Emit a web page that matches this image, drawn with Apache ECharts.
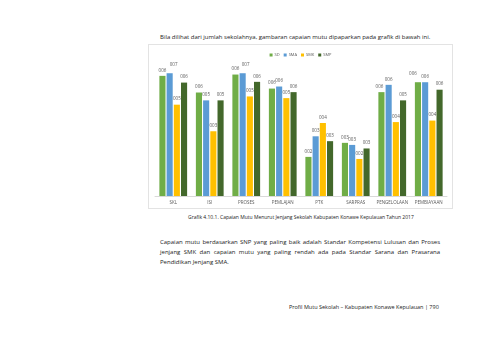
<!DOCTYPE html>
<html><head><meta charset="utf-8">
<script src="https://cdn.jsdelivr.net/npm/echarts@6/dist/echarts.min.js"></script>
<style>
html,body{margin:0;padding:0;background:#fff;width:480px;height:339px;overflow:hidden;font-family:"Open Sans","Liberation Sans",sans-serif;color:#222;}
.t{position:absolute;font-size:6px;white-space:nowrap;line-height:10px;}
#chart{position:absolute;left:148px;top:44px;width:303px;height:163px;border:1px solid #e3e3e3;}
#para{position:absolute;left:160px;top:237px;width:280px;font-size:6px;line-height:10px;text-align:justify;}
</style></head><body>
<div class="t" style="left:160px;top:32px;">Bila dilihat dari jumlah sekolahnya, gambaran capaian mutu dipaparkan pada grafik di bawah ini.</div>
<div id="chart"></div>
<div class="t" style="left:188px;top:212px;font-size:5px;">Grafik 4.10.1. Capaian Mutu Menurut Jenjang Sekolah Kabupaten Konawe Kepulauan Tahun 2017</div>
<div id="para">Capaian mutu berdasarkan SNP yang paling baik adalah Standar Kompetensi Lulusan dan Proses jenjang SMK dan capaian mutu yang paling rendah ada pada Standar Sarana dan Prasarana Pendidikan Jenjang SMA.</div>
<div class="t" style="left:289px;top:302px;font-size:5.5px;">Profil Mutu Sekolah – Kabupaten Konawe Kepulauan | 790</div>
<script>
const categories = ["SKL","ISI","PROSES","PEMLAJAN","PTK","SARPRAS","PENGELOLAAN","PEMBIAYAAN"];
const seriesNames = ["SD","SMA","SMK","SMP"];
const sd  = [6.42,5.53,6.49,5.74,2.09,2.84,5.55,6.08];
const sma = [6.56,5.11,6.56,5.85,3.19,2.73,5.94,6.08];
const smk = [4.88,3.46,5.32,5.23,3.90,1.98,3.95,4.03];
const smp = [6.06,5.11,6.10,5.55,2.93,2.54,5.11,5.68];
const colors = ["#70ad47","#5b9bd5","#ffc000","#43682b"];
const values = [sd,sma,smk,smp];
// labels moved aside (with leader line) in the original
const shifted = {"1-0":[4,-3],"1-2":[3,-3],"0-7":[-5,-3],"0-6":[-2,0]};

const chart = echarts.init(document.getElementById('chart'), null, {renderer:'canvas'});
chart.setOption({
  animation:false,
  color:colors,
  legend:{top:3,left:'center',itemWidth:3,itemHeight:3,itemGap:4,icon:'rect',
    textStyle:{fontSize:4,color:'#595959',fontFamily:'Open Sans',padding:[0,0,0,-3]}, data:seriesNames},
  grid:{left:6,right:5,top:20,bottom:12,containLabel:false},
  xAxis:{type:'category',data:categories,
    axisLine:{lineStyle:{color:'#d9d9d9'}},axisTick:{show:false},
    axisLabel:{fontSize:4.5,color:'#595959',margin:4,fontFamily:'Open Sans',interval:0}},
  yAxis:{type:'value',min:0,max:7,show:false,splitLine:{show:false}},
  series: seriesNames.map((n,i)=>({
    name:n,type:'bar',barGap:'18%',barCategoryGap:'24%',
    data:values[i].map((v,j)=>{
      const s = shifted[i+'-'+j];
      return s ? {value:v,label:{offset:s}} : v;
    }),
    label:{show:true,position:'top',distance:3,fontSize:4.5,color:'#595959',fontFamily:'Open Sans',
      formatter:p=>'00'+Math.round(p.value)}
  }))
});
</script>
</body></html>
